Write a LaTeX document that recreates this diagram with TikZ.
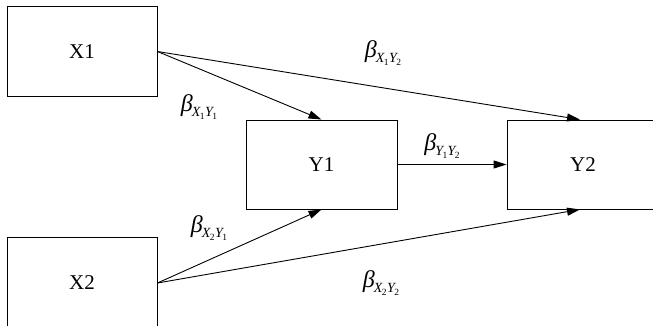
\documentclass[tikz,border=0pt]{standalone}
\usepackage{fontspec}
\setmainfont{Liberation Serif}
\usetikzlibrary{arrows.meta}
\newcommand{\bsub}[2]{{\fontsize{24}{24}\selectfont\itshape β}\kern-1pt\raisebox{-5pt}{\fontsize{14}{14}\selectfont\itshape X\kern-0.5pt\raisebox{-2.5pt}{\fontsize{9.5}{9.5}\selectfont\upshape #1}\kern0.3pt Y\kern-0.5pt\raisebox{-2.5pt}{\fontsize{9.5}{9.5}\selectfont\upshape #2}}}
\newcommand{\bsubY}[2]{{\fontsize{24}{24}\selectfont\itshape β}\kern-1pt\raisebox{-5pt}{\fontsize{14}{14}\selectfont\itshape Y\kern-0.5pt\raisebox{-2.5pt}{\fontsize{9.5}{9.5}\selectfont\upshape #1}\kern0.3pt Y\kern-0.5pt\raisebox{-2.5pt}{\fontsize{9.5}{9.5}\selectfont\upshape #2}}}
\tikzset{
  box/.style={draw, line width=0.9pt, minimum width=150pt, minimum height=90pt, inner sep=0pt, font=\fontsize{21}{21}\selectfont},
  conn/.style={line width=0.9pt, -{Triangle[length=13pt,width=8pt]}},
  lbl/.style={inner sep=0pt}
}
\begin{document}
\begin{tikzpicture}[x=1pt,y=-1pt]
\useasboundingbox (0,0) rectangle (653,326);
\begin{scope}
\clip (0,0) rectangle (653,326);
\node[box] (x1) at (82,51.5) {X1};
\node[box, minimum width=151pt, minimum height=89pt] (y1) at (321.5,164.5) {Y1};
\node[box, minimum width=152pt, minimum height=89pt] (y2) at (583,164.5) {Y2};
\node[box, minimum height=92pt] (x2) at (82,283) {X2};
\draw[conn] (x1.east) -- (y1.north);
\draw[conn] (x1.east) -- ([xshift=-3pt]y2.north);
\draw[conn] (y1.east) -- (y2.west);
\draw[conn] (x2.east) -- (y1.south);
\draw[conn] (x2.east) -- ([xshift=-3pt]y2.south);
\end{scope}
\node[lbl] (l1) at (199,107) {\bsub{1}{1}};
\node[lbl] (l2) at (383,53) {\bsub{1}{2}};
\node[lbl] (l3) at (442,146) {\bsubY{1}{2}};
\node[lbl] (l4) at (209,228) {\bsub{2}{1}};
\node[lbl] (l5) at (381,283) {\bsub{2}{2}};
\end{tikzpicture}
\end{document}
